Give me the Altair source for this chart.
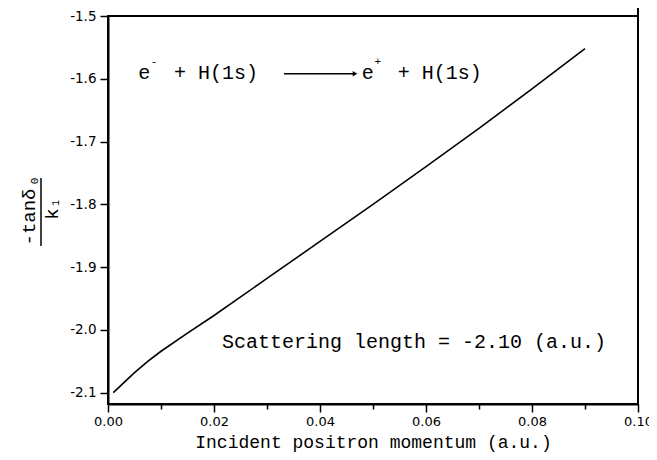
import altair as alt
import pandas as pd

# ---- data ----
momentum = [0.001, 0.003, 0.005, 0.0075, 0.010, 0.015, 0.020, 0.030,
            0.040, 0.050, 0.060, 0.070, 0.080, 0.090]
tan_over_k = [-2.100, -2.084, -2.068, -2.050, -2.034, -2.005, -1.977, -1.918,
              -1.859, -1.800, -1.740, -1.679, -1.616, -1.552]

x_ticks = [0.0, 0.01, 0.02, 0.03, 0.04, 0.05, 0.06, 0.07, 0.08, 0.09, 0.10]
y_ticks = [-2.1, -2.05, -2.0, -1.95, -1.9, -1.85, -1.8, -1.75, -1.7,
           -1.65, -1.6, -1.55, -1.5]

x_domain = [0.0, 0.10]
y_domain = [-2.118, -1.5]

particle = "e"
rest = "+ H(1s)"
sup_left = "-"
sup_right = "+"
scattering_text = "Scattering length = -2.10 (a.u.)"
x_title = "Incident positron momentum (a.u.)"
num_text = "-tan\u03b4"
num_sub = "0"
den_text = "k"
den_sub = "1"

MONO = "Liberation Mono"
SANS = "DejaVu Sans"

W, H = 530, 388

df = pd.DataFrame({"k": momentum, "v": tan_over_k})

xs = alt.Scale(domain=x_domain, nice=False, zero=False)
ys = alt.Scale(domain=y_domain, nice=False, zero=False)

x_axis = alt.Axis(
    values=x_ticks,
    labelExpr="round(datum.value*100) % 2 === 0 ? format(datum.value, '.2f') : ''",
    tickSize={"condition": {"test": "round(datum.value*100) % 2 === 0", "value": 8}, "value": 5},
    domainWidth=2, domainColor="black", tickColor="black", tickWidth=1.5,
    labelFont=SANS, labelFontSize=13, labelColor="black", labelPadding=3,
    labelFlush=False, labelOverlap=False,
    title=x_title, titleFont=MONO, titleFontSize=18, titleFontWeight="normal",
    titleColor="black", titlePadding=5, grid=False,
)
y_axis = alt.Axis(
    values=y_ticks,
    labelExpr="round(datum.value*100) % 10 === 0 ? replace(format(datum.value, '.1f'), '\u2212', '-') : ''",
    tickSize={"condition": {"test": "round(datum.value*100) % 10 === 0", "value": 8}, "value": 5},
    domainWidth=2, domainColor="black", tickColor="black", tickWidth=1.5,
    labelFont=SANS, labelFontSize=13.5, labelColor="black", labelPadding=4,
    labelFlush=False, labelOverlap=False,
    title="", grid=False,
)

base = alt.Chart(df)

curve = base.mark_line(color="black", strokeWidth=1.6).encode(
    x=alt.X("k:Q", scale=xs, axis=x_axis),
    y=alt.Y("v:Q", scale=ys, axis=y_axis),
)

# ---- annotations (data coordinates) ----
ann = pd.DataFrame({
    "x": [0.0057, 0.01245, 0.0479, 0.05465],
    "y": [-1.590, -1.590, -1.590, -1.590],
    "t": [particle, rest, particle, rest],
})
ann_text = alt.Chart(ann).mark_text(
    font=MONO, fontSize=20, align="left", baseline="middle", color="black"
).encode(x=alt.X("x:Q", scale=xs), y=alt.Y("y:Q", scale=ys), text="t:N")

sup = pd.DataFrame({
    "x": [0.0087, 0.0509],
    "y": [-1.574, -1.574],
    "t": [sup_left, sup_right],
})
sup_text = alt.Chart(sup).mark_text(
    font=MONO, fontSize=11, align="center", baseline="middle", color="black"
).encode(x=alt.X("x:Q", scale=xs), y=alt.Y("y:Q", scale=ys), text="t:N")

arrow_df = pd.DataFrame({"x": [0.0332], "x2": [0.0464], "y": [-1.592]})
arrow = alt.Chart(arrow_df).mark_rule(color="black", strokeWidth=1.5).encode(
    x=alt.X("x:Q", scale=xs), x2="x2:Q", y=alt.Y("y:Q", scale=ys)
)
head_df = pd.DataFrame({"x": [0.0466], "y": [-1.592]})
head = alt.Chart(head_df).mark_point(
    shape="triangle-right", filled=True, color="black", size=28, opacity=1
).encode(x=alt.X("x:Q", scale=xs), y=alt.Y("y:Q", scale=ys))

sc_df = pd.DataFrame({"x": [0.0215], "y": [-2.020], "t": [scattering_text]})
sc_text = alt.Chart(sc_df).mark_text(
    font=MONO, fontSize=20, align="left", baseline="middle", color="black"
).encode(x=alt.X("x:Q", scale=xs), y=alt.Y("y:Q", scale=ys), text="t:N")

# ---- y-axis title as a fraction (pixel positions in the left padding) ----
one = pd.DataFrame({"a": [0]})
cy = 196
num = alt.Chart(one).mark_text(
    font=MONO, fontSize=19, angle=270, align="center", baseline="middle", color="black"
).encode(x=alt.value(-79), y=alt.value(cy + 5), text=alt.value(num_text))
num_s = alt.Chart(one).mark_text(
    font=MONO, fontSize=11, angle=270, align="center", baseline="middle", color="black"
).encode(x=alt.value(-73), y=alt.value(cy - 31), text=alt.value(num_sub))
bar = alt.Chart(one).mark_rule(color="black", strokeWidth=1.5).encode(
    x=alt.value(-67), y=alt.value(cy - 34), y2=alt.value(cy + 34)
)
den = alt.Chart(one).mark_text(
    font=MONO, fontSize=19, angle=270, align="center", baseline="middle", color="black"
).encode(x=alt.value(-56), y=alt.value(cy + 2), text=alt.value(den_text))
den_s = alt.Chart(one).mark_text(
    font=MONO, fontSize=10, angle=270, align="center", baseline="middle", color="black"
).encode(x=alt.value(-52), y=alt.value(cy - 9), text=alt.value(den_sub))

# right frame line that rises slightly above the top frame, as in the reference
rframe = alt.Chart(one).mark_rule(color="black", strokeWidth=2).encode(
    x=alt.value(W), y=alt.value(-8), y2=alt.value(H)
)

chart = alt.layer(
    curve, ann_text, sup_text, arrow, head, sc_text, num, num_s, bar, den, den_s, rframe
).properties(
    width=W, height=H,
    autosize=alt.AutoSizeParams(type="none"),
    padding={"left": 100, "top": 8, "right": 11, "bottom": 48},
    background="white",
).configure_view(
    stroke="black", strokeWidth=2
)

chart.save("out.html", embed_options={"renderer": "svg", "actions": False})
